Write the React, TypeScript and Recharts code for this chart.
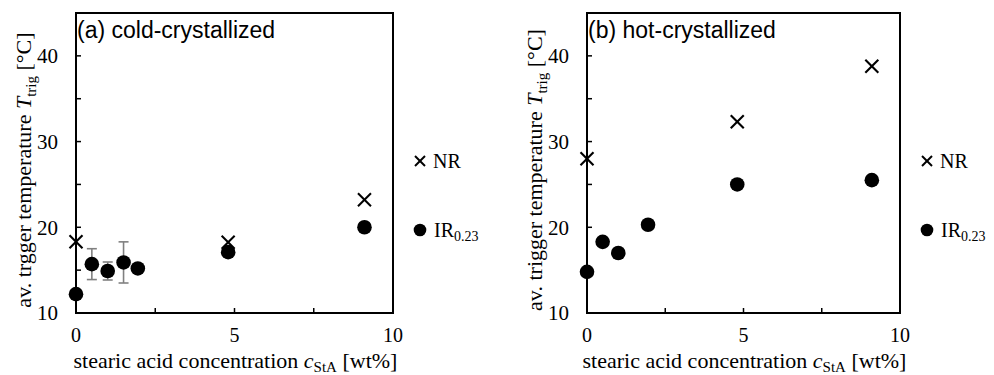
import React from "react";
import { ErrorBar, Legend, ReferenceArea, Scatter, ScatterChart, XAxis, YAxis } from "recharts";

const X_TICKS = [0, 2.5, 5, 7.5, 10];
const X_LABELS = ["0", "", "5", "", "10"];
const Y_TICKS = [10, 15, 20, 25, 30, 35, 40];
const Y_LABELS = ["10", "", "20", "", "30", "", "40"];

// (a) cold-crystallized
const A_NR_X = [0, 4.8, 9.1];
const A_NR_Y = [18.3, 18.25, 23.2];
const A_IR_X = [0, 0.5, 1, 1.5, 1.95, 4.8, 9.1];
const A_IR_Y = [12.2, 15.7, 14.9, 15.9, 15.2, 17.1, 20.0];
const A_IR_ERR = [null, 1.8, 1.05, 2.4, null, null, null];

// (b) hot-crystallized
const B_NR_X = [0, 4.8, 9.1];
const B_NR_Y = [28.0, 32.3, 38.8];
const B_IR_X = [0, 0.5, 1, 1.95, 4.8, 9.1];
const B_IR_Y = [14.8, 18.3, 17.0, 20.3, 25.0, 25.5];
const B_IR_ERR = [null, null, null, null, null, null];

const SERIF = "Liberation Serif, Times New Roman, serif";
const SANS = "Liberation Sans, Arial, sans-serif";

const zip = (xs: number[], ys: number[], errs?: (number | null)[]) =>
  xs.map((x, i) => ({ x, y: ys[i], err: errs ? errs[i] : null }));

const Cross = ({ cx, cy, s = 6.5, w = 2.1 }: any) => (
  <g stroke="#000" strokeWidth={w}>
    <line x1={cx - s} y1={cy - s} x2={cx + s} y2={cy + s} />
    <line x1={cx - s} y1={cy + s} x2={cx + s} y2={cy - s} />
  </g>
);

const Dot = ({ cx, cy }: any) => <circle cx={cx} cy={cy} r={7.3} fill="#000" />;

const Nothing = () => <g />;

const PanelTitle = ({ viewBox, text }: any) => (
  <text x={viewBox.x + 1} y={viewBox.y + 25} style={{ fontFamily: SANS }} fontSize={23} fill="#000">
    {text}
  </text>
);

const XTitle = ({ viewBox }: any) => (
  <text
    x={viewBox.x + viewBox.width / 2 + 1}
    y={viewBox.y + 55}
    textAnchor="middle"
    style={{ fontFamily: SERIF }}
    fontSize={22}
    fill="#000"
  >
    stearic acid concentration <tspan fontStyle="italic">c</tspan>
    <tspan fontSize={15} dy={4}>StA</tspan>
    <tspan dy={-4}> [wt%]</tspan>
  </text>
);

const YTitle = ({ viewBox, word }: any) => {
  const x = viewBox.x + viewBox.width - 45;
  const y = viewBox.y + viewBox.height / 2 + 7;
  return (
    <text
      x={x}
      y={y}
      transform={`rotate(-90, ${x}, ${y})`}
      textAnchor="middle"
      style={{ fontFamily: SERIF }}
      fontSize={22}
      fill="#000"
    >
      av. {word} temperature <tspan fontStyle="italic">T</tspan>
      <tspan fontSize={15} dy={5}>trig</tspan>
      <tspan dy={-5}> [°C]</tspan>
    </text>
  );
};

const LegendBox = () => (
  <svg width={90} height={100} style={{ display: "block" }}>
    <Cross cx={8} cy={10} s={5} w={2} />
    <text x={21} y={17} style={{ fontFamily: SERIF }} fontSize={20} fill="#000">
      NR
    </text>
    <circle cx={8} cy={79} r={6.3} fill="#000" />
    <text x={22} y={86} style={{ fontFamily: SERIF }} fontSize={20} fill="#000">
      IR<tspan fontSize={14} dy={4}>0.23</tspan>
    </text>
  </svg>
);

type PanelProps = {
  left: number;
  axisWidth: number;
  marginRight: number;
  title: string;
  word: string;
  nr: { x: number; y: number; err: number | null }[];
  ir: { x: number; y: number; err: number | null }[];
};

function Panel({ left, axisWidth, marginRight, title, word, nr, ir }: PanelProps) {
  const plotRight = 497 - marginRight;
  const withErr = ir.filter((d) => d.err != null);
  return (
    <div style={{ position: "absolute", left, top: 0 }}>
      <ScatterChart width={497} height={375} margin={{ top: 13, right: marginRight, bottom: 0, left: 0 }}>
        <XAxis
          type="number"
          dataKey="x"
          domain={[0, 10]}
          ticks={X_TICKS}
          tickFormatter={(v: number) => X_LABELS[X_TICKS.indexOf(v)] ?? ""}
          height={62}
          tickSize={-5}
          tickMargin={20}
          axisLine={{ stroke: "#000", strokeWidth: 2 }}
          tickLine={{ stroke: "#000", strokeWidth: 1.5 }}
          tick={{ fill: "#000", fontFamily: SERIF, fontSize: 20 }}
          interval={0}
          label={<XTitle />}
        />
        <YAxis
          type="number"
          dataKey="y"
          domain={[10, 45]}
          ticks={Y_TICKS}
          tickFormatter={(v: number) => Y_LABELS[Y_TICKS.indexOf(v)] ?? ""}
          width={axisWidth}
          tickSize={-5}
          tickMargin={23}
          axisLine={{ stroke: "#000", strokeWidth: 2 }}
          tickLine={{ stroke: "#000", strokeWidth: 1.5 }}
          tick={{ fill: "#000", fontFamily: SERIF, fontSize: 21 }}
          interval={0}
          label={<YTitle word={word} />}
        />
        <ReferenceArea
          x1={0}
          x2={10}
          y1={10}
          y2={45}
          fill="none"
          stroke="#000"
          strokeWidth={2}
          label={<PanelTitle text={title} />}
        />
        <Scatter data={withErr} shape={<Nothing />} isAnimationActive={false}>
          <ErrorBar dataKey="err" direction="y" width={5} stroke="#808080" strokeWidth={1.6} />
        </Scatter>
        <Scatter name="NR" data={nr} shape={<Cross />} isAnimationActive={false} />
        <Scatter name="IR0.23" data={ir} shape={<Dot />} isAnimationActive={false} />
        <Legend
          layout="vertical"
          align="center"
          verticalAlign="middle"
          content={<LegendBox />}
          wrapperStyle={{ left: plotRight + 19, top: 151, width: 90, height: 100 }}
        />
      </ScatterChart>
    </div>
  );
}

export default function App() {
  return (
    <div style={{ position: "absolute", left: 0, top: 0, width: 994, height: 375, background: "#fff" }}>
      <Panel
        left={0}
        axisWidth={76}
        marginRight={104}
        title="(a) cold-crystallized"
        word="trgger"
        nr={zip(A_NR_X, A_NR_Y)}
        ir={zip(A_IR_X, A_IR_Y, A_IR_ERR)}
      />
      <Panel
        left={497}
        axisWidth={90}
        marginRight={94}
        title="(b) hot-crystallized"
        word="trigger"
        nr={zip(B_NR_X, B_NR_Y)}
        ir={zip(B_IR_X, B_IR_Y, B_IR_ERR)}
      />
    </div>
  );
}
